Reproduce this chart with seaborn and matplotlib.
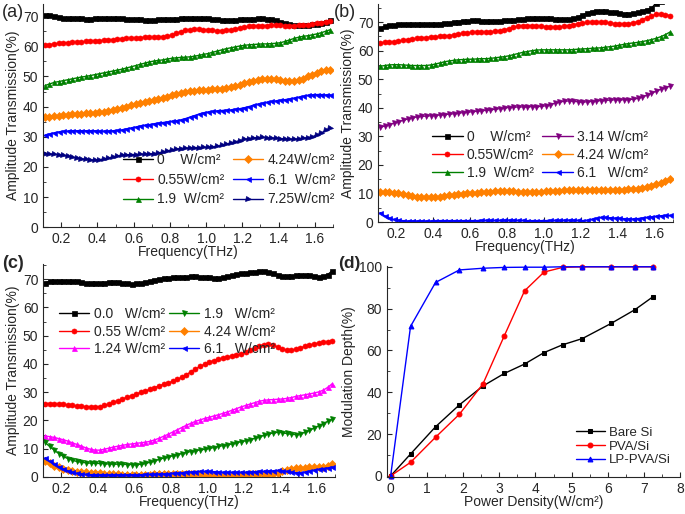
import numpy as np
import matplotlib
matplotlib.use("Agg")
import matplotlib.pyplot as plt
from matplotlib.ticker import MultipleLocator
import seaborn as sns

# ---- data ----
# THz frequency grid (sampling grid of the spectra)
freq = np.round(0.11 + 0.025 * np.arange(64), 3)

# (a) transmission spectra
a_0 = [70.5, 70.3, 70.0, 69.7, 69.5, 69.4, 69.3, 69.3,
       69.3, 69.2, 69.2, 69.3, 69.3, 69.3, 69.4, 69.4,
       69.4, 69.3, 69.2, 69.1, 69.0, 68.9, 68.8, 68.8,
       68.8, 68.9, 68.9, 69.0, 69.1, 69.2, 69.3, 69.4,
       69.5, 69.5, 69.4, 69.4, 69.3, 69.1, 68.9, 68.8,
       68.7, 68.7, 68.8, 68.9, 69.0, 69.1, 69.2, 69.3,
       69.3, 69.2, 69.0, 68.6, 68.2, 67.8, 67.4, 67.2,
       67.2, 67.1, 67.2, 67.3, 67.5, 67.8, 68.2, 68.7]
a_055 = [60.3, 60.6, 60.8, 61.0, 61.1, 61.2, 61.3, 61.4,
         61.5, 61.6, 61.7, 61.8, 61.9, 62.0, 62.1, 62.2,
         62.4, 62.5, 62.6, 62.7, 62.8, 62.9, 63.0, 63.0,
         63.0, 63.1, 63.2, 63.4, 63.7, 64.3, 64.9, 65.3,
         65.5, 65.6, 65.6, 65.5, 65.4, 65.3, 65.2, 65.2,
         65.3, 65.5, 65.8, 66.1, 66.4, 66.6, 66.7, 66.8,
         66.9, 66.9, 67.0, 67.0, 67.0, 66.9, 66.9, 66.9,
         67.0, 67.1, 67.2, 67.4, 67.6, 67.9, 68.2, 68.5]
a_19 = [47.0, 47.5, 48.0, 48.3, 48.6, 48.9, 49.2, 49.5,
        49.8, 50.0, 50.3, 50.6, 50.9, 51.2, 51.5, 51.8,
        52.1, 52.4, 52.8, 53.2, 53.6, 54.0, 54.4, 54.8,
        55.1, 55.3, 55.5, 55.8, 56.0, 56.2, 56.3, 56.4,
        56.5, 56.7, 57.0, 57.3, 57.6, 58.0, 58.4, 58.8,
        59.2, 59.5, 59.8, 60.1, 60.3, 60.5, 60.6, 60.7,
        60.8, 60.8, 60.9, 61.0, 61.2, 61.6, 62.1, 62.6,
        63.0, 63.3, 63.5, 63.8, 64.1, 64.5, 65.0, 65.5]
a_424 = [36.5, 36.7, 36.8, 37.0, 37.2, 37.3, 37.4, 37.5,
         37.6, 37.8, 37.9, 38.0, 38.1, 38.3, 38.6, 38.9,
         39.2, 39.6, 40.0, 40.4, 40.8, 41.2, 41.5, 41.8,
         42.1, 42.4, 42.8, 43.3, 43.7, 44.2, 44.6, 44.9,
         45.1, 45.3, 45.4, 45.5, 45.6, 45.7, 45.9, 46.0,
         46.2, 46.5, 46.9, 47.3, 47.7, 48.1, 48.5, 48.8,
         49.0, 49.2, 49.2, 49.0, 48.7, 48.5, 48.5, 48.6,
         48.8, 49.3, 50.0, 50.6, 51.3, 51.9, 52.2, 52.3]
a_61 = [30.5, 30.9, 31.3, 31.6, 31.8, 31.9, 32.0, 32.0,
        32.0, 32.0, 32.0, 32.0, 31.9, 31.9, 31.9, 32.0,
        32.1, 32.3, 32.6, 32.9, 33.2, 33.5, 33.8, 34.0,
        34.3, 34.5, 34.7, 34.9, 35.1, 35.3, 35.6, 36.0,
        36.5, 37.0, 37.5, 37.9, 38.2, 38.4, 38.6, 38.7,
        38.8, 38.9, 39.1, 39.3, 39.6, 40.0, 40.4, 40.8,
        41.1, 41.4, 41.7, 41.9, 42.1, 42.3, 42.5, 42.8,
        43.1, 43.4, 43.7, 43.9, 44.0, 44.0, 43.9, 43.9]
a_725 = [24.3, 24.3, 24.2, 24.0, 23.8, 23.5, 23.2, 22.9,
         22.7, 22.5, 22.3, 22.3, 22.4, 22.6, 22.9, 23.3,
         23.6, 23.9, 24.0, 24.1, 24.1, 24.2, 24.2, 24.3,
         24.4, 24.6, 24.9, 25.3, 25.6, 25.9, 26.1, 26.2,
         26.3, 26.4, 26.4, 26.5, 26.5, 26.6, 26.8, 27.1,
         27.5, 27.9, 28.3, 28.7, 29.1, 29.4, 29.6, 29.7,
         29.8, 29.7, 29.6, 29.5, 29.4, 29.3, 29.2, 29.2,
         29.3, 29.5, 29.7, 30.0, 30.5, 31.2, 32.1, 33.0]

# (b) transmission spectra
b_0 = [67.8, 68.5, 68.9, 69.1, 69.2, 69.3, 69.3, 69.3,
       69.3, 69.3, 69.3, 69.3, 69.4, 69.5, 69.7, 69.8,
       70.0, 70.2, 70.4, 70.5, 70.6, 70.6, 70.5, 70.5,
       70.5, 70.5, 70.5, 70.6, 70.7, 70.8, 71.0, 71.2,
       71.4, 71.5, 71.6, 71.6, 71.5, 71.4, 71.2, 71.1,
       71.0, 71.0, 71.3, 71.8, 72.5, 73.2, 73.7, 74.0,
       74.0, 73.9, 73.7, 73.4, 73.1, 73.0, 73.0, 73.1,
       73.4, 73.9, 74.4, 74.8, 76.8, 77.5, 78.0, 78.5]
b_055 = [62.8, 62.9, 63.0, 63.1, 63.3, 63.6, 63.9, 64.1,
         64.3, 64.5, 64.6, 64.8, 64.9, 65.0, 65.2, 65.3,
         65.5, 65.8, 66.1, 66.3, 66.4, 66.5, 66.5, 66.5,
         66.6, 66.8, 67.0, 67.3, 67.7, 68.2, 68.6, 68.8,
         68.8, 68.8, 68.7, 68.6, 68.4, 68.3, 68.3, 68.4,
         68.5, 68.8, 69.1, 69.4, 69.7, 69.9, 70.0, 70.0,
         70.0, 69.9, 69.7, 69.5, 69.4, 69.4, 69.5, 69.7,
         70.2, 70.9, 71.6, 72.2, 72.7, 72.8, 72.6, 72.3]
b_19 = [54.5, 54.8, 55.0, 55.1, 55.1, 55.0, 54.9, 54.8,
        54.8, 54.8, 54.8, 55.0, 55.3, 55.7, 56.1, 56.4,
        56.6, 56.8, 56.9, 57.0, 57.0, 57.1, 57.2, 57.2,
        57.3, 57.5, 57.7, 57.9, 58.2, 58.6, 59.0, 59.4,
        59.7, 60.0, 60.2, 60.3, 60.3, 60.3, 60.3, 60.3,
        60.3, 60.3, 60.4, 60.5, 60.6, 60.7, 60.8, 60.9,
        61.0, 61.2, 61.4, 61.6, 61.9, 62.2, 62.5, 62.7,
        62.9, 63.2, 63.5, 63.9, 64.3, 64.9, 65.6, 66.5]
b_314 = [33.2, 33.6, 34.1, 34.6, 35.1, 35.6, 36.1, 36.5,
         36.8, 37.0, 37.1, 37.2, 37.3, 37.5, 37.6, 37.8,
         37.9, 38.1, 38.3, 38.5, 38.6, 38.8, 39.0, 39.1,
         39.3, 39.5, 39.7, 39.9, 40.1, 40.2, 40.3, 40.3,
         40.3, 40.4, 40.4, 40.5, 40.7, 41.1, 41.6, 42.0,
         42.3, 42.4, 42.3, 42.1, 42.0, 42.1, 42.2, 42.4,
         42.5, 42.6, 42.7, 42.8, 42.8, 42.8, 42.9, 43.0,
         43.3, 43.8, 44.4, 45.1, 45.8, 46.5, 47.1, 47.6]
b_424 = [10.5, 10.5, 10.4, 10.3, 10.1, 9.8, 9.4, 9.1,
         8.9, 8.7, 8.6, 8.6, 8.7, 8.9, 9.1, 9.4,
         9.6, 9.8, 9.9, 10.0, 10.1, 10.2, 10.4, 10.5,
         10.6, 10.7, 10.8, 10.8, 10.8, 10.7, 10.6, 10.5,
         10.5, 10.5, 10.6, 10.6, 10.7, 10.8, 10.9, 11.0,
         11.1, 11.2, 11.3, 11.3, 11.3, 11.2, 11.2, 11.2,
         11.2, 11.2, 11.2, 11.2, 11.3, 11.3, 11.4, 11.5,
         11.6, 11.8, 12.1, 12.6, 13.2, 13.8, 14.4, 15.0]
b_61 = [3.3, 2.2, 1.4, 0.9, 0.6, 0.5, 0.4, 0.4,
        0.4, 0.4, 0.4, 0.4, 0.4, 0.5, 0.5, 0.5,
        0.5, 0.5, 0.5, 0.5, 0.5, 0.5, 0.6, 0.6,
        0.6, 0.6, 0.6, 0.7, 0.7, 0.7, 0.6, 0.6,
        0.5, 0.5, 0.5, 0.5, 0.5, 0.6, 0.6, 0.6,
        0.7, 0.7, 0.7, 0.6, 0.5, 0.6, 0.9, 1.3,
        1.6, 1.6, 1.5, 1.4, 1.3, 1.2, 1.1, 1.1,
        1.2, 1.4, 1.6, 1.8, 2.0, 2.2, 2.3, 2.3]

# (c) transmission spectra
c_0 = [68.8, 69.2, 69.4, 69.5, 69.5, 69.5, 69.4, 69.2,
       69.0, 68.7, 68.5, 68.5, 68.6, 68.8, 69.0, 69.0,
       68.9, 68.7, 68.5, 68.4, 68.5, 68.7, 69.0, 69.4,
       69.8, 70.1, 70.3, 70.5, 70.6, 70.7, 70.8, 70.9,
       71.0, 71.0, 70.9, 70.8, 70.6, 70.5, 70.5, 70.7,
       71.0, 71.4, 71.8, 72.1, 72.3, 72.5, 72.7, 72.8,
       72.8, 72.6, 72.1, 71.6, 71.2, 71.1, 71.2, 71.3,
       71.4, 71.4, 71.3, 71.1, 70.9, 71.0, 71.6, 73.0]
c_055 = [26.0, 26.0, 25.9, 25.8, 25.7, 25.5, 25.3, 25.1,
         25.0, 24.9, 24.8, 24.8, 24.9, 25.3, 25.8, 26.4,
         27.0, 27.6, 28.2, 28.8, 29.4, 29.9, 30.4, 31.0,
         31.6, 32.2, 32.8, 33.3, 33.8, 34.5, 35.3, 36.2,
         37.2, 38.2, 39.1, 39.9, 40.6, 41.2, 41.7, 42.1,
         42.5, 42.8, 43.2, 43.6, 44.1, 44.8, 45.6, 46.4,
         46.8, 46.9, 46.6, 46.0, 45.3, 44.9, 44.9, 45.2,
         45.7, 46.2, 46.7, 47.1, 47.4, 47.6, 47.8, 48.2]
c_124 = [14.5, 14.3, 14.0, 13.6, 13.2, 12.7, 12.1, 11.5,
         10.9, 10.3, 9.8, 9.5, 9.5, 9.8, 10.2, 10.6,
         10.9, 11.2, 11.5, 11.7, 11.9, 12.1, 12.3, 12.6,
         13.1, 13.7, 14.4, 15.1, 15.9, 16.7, 17.5, 18.3,
         19.0, 19.7, 20.2, 20.7, 21.1, 21.6, 22.0, 22.5,
         23.0, 23.6, 24.2, 24.8, 25.3, 25.8, 26.3, 26.8,
         27.1, 27.3, 27.4, 27.5, 27.6, 27.8, 28.1, 28.5,
         28.8, 29.1, 29.4, 29.7, 30.1, 30.7, 31.7, 33.0]
c_19 = [12.3, 10.8, 9.5, 8.3, 7.3, 6.5, 5.9, 5.5,
        5.2, 5.0, 4.9, 4.8, 4.8, 4.7, 4.6, 4.6,
        4.5, 4.5, 4.4, 4.4, 4.4, 4.5, 4.8, 5.2,
        5.7, 6.2, 6.7, 7.1, 7.5, 7.9, 8.3, 8.7,
        9.0, 9.3, 9.6, 9.8, 10.1, 10.4, 10.8, 11.1,
        11.4, 11.7, 12.1, 12.5, 12.8, 13.2, 13.7, 14.2,
        14.7, 15.2, 15.6, 15.8, 15.7, 15.4, 15.1, 15.0,
        15.3, 15.8, 16.5, 17.3, 18.1, 18.9, 19.7, 20.4]
c_424 = [5.8, 4.8, 4.0, 3.4, 2.9, 2.5, 2.2, 1.9,
         1.7, 1.6, 1.5, 1.4, 1.3, 1.2, 1.1, 1.0,
         0.9, 0.8, 0.7, 0.6, 0.6, 0.6, 0.7, 0.8,
         0.9, 1.0, 1.1, 1.1, 1.2, 1.2, 1.2, 1.2,
         1.1, 1.0, 0.9, 0.8, 0.6, 0.5, 0.4, 0.3,
         0.3, 0.4, 0.5, 0.7, 0.8, 0.9, 1.0, 1.0,
         1.0, 1.1, 1.2, 1.5, 2.0, 2.5, 2.9, 3.1,
         3.2, 3.3, 3.4, 3.4, 3.5, 3.7, 4.0, 4.5]
c_61 = [6.8, 5.6, 4.6, 3.7, 2.9, 2.2, 1.7, 1.3,
        1.1, 0.9, 0.8, 0.8, 0.8, 0.8, 0.8, 0.8,
        0.8, 0.8, 0.8, 0.8, 0.8, 0.8, 0.9, 0.9,
        1.0, 1.1, 1.1, 1.2, 1.3, 1.4, 1.5, 1.7,
        1.8, 1.9, 2.0, 2.0, 2.0, 1.9, 1.8, 1.7,
        1.7, 1.7, 1.7, 1.7, 1.7, 1.8, 1.9, 2.0,
        2.0, 2.1, 2.2, 2.3, 2.2, 2.0, 1.7, 1.5,
        1.5, 1.7, 2.0, 2.4, 2.7, 3.0, 3.2, 3.5]

# (d) modulation depth vs pump power
power = [0, 0.55, 1.24, 1.9, 2.55, 3.14, 3.7, 4.24, 4.75, 5.3, 6.1, 6.75, 7.25]
md_bare = [0, 10.5, 23.5, 34, 43, 49, 53.5, 59, 62.7, 65.7, 73, 79.5, 85.7]
md_pva = [0, 6.5, 18.5, 29.5, 44, 67, 88.5, 97.5, 99.7, 100, 100, 100, 100]
md_lp = [0, 71.5, 92.5, 98.5, 99.3, 99.7, 99.8, 99.8, 100, 100, 100, 100, 100]

# ---- style ----
sns.set_style("ticks", {"xtick.direction": "in", "ytick.direction": "in"})
plt.rcParams['font.family'] = ['Liberation Sans', 'DejaVu Sans']
plt.rcParams['font.size'] = 10
plt.rcParams['xtick.major.size'] = 3.5
plt.rcParams['ytick.major.size'] = 3.5
plt.rcParams['xtick.minor.size'] = 2
plt.rcParams['ytick.minor.size'] = 2

BLACK, RED, GREEN = '#000000', '#ff0000', '#008000'
ORANGE, BLUE, NAVY = '#ff8000', '#0000ff', '#000080'
PURPLE, MAGENTA = '#800080', '#ff00ff'

fig = plt.figure(figsize=(6.85, 5.14), dpi=100)
ax_a = fig.add_axes([0.063, 0.558, 0.423, 0.434])
ax_b = fig.add_axes([0.552, 0.568, 0.430, 0.424])
ax_c = fig.add_axes([0.063, 0.072, 0.426, 0.414])
ax_d = fig.add_axes([0.565, 0.072, 0.428, 0.411])


def draw_spectra(ax, series, ymax):
    for vals, col, mk, lab in series:
        sns.lineplot(x=freq, y=vals, ax=ax, color=col, marker=mk, markersize=3.6,
                     markeredgecolor=col, markeredgewidth=0.5, linewidth=1.0,
                     label=lab, estimator=None)
    ax.set_xlim(0.1, 1.7)
    ax.set_ylim(0, ymax)
    ax.xaxis.set_minor_locator(MultipleLocator(0.1))
    ax.yaxis.set_major_locator(MultipleLocator(10))
    ax.yaxis.set_minor_locator(MultipleLocator(5))
    ax.set_xticks(np.arange(0.2, 1.65, 0.2))
    ax.set_xticklabels([f"{v:.1f}" for v in np.arange(0.2, 1.65, 0.2)])
    ax.set_xlabel("Frequency(THz)", labelpad=-0.5)
    ax.set_ylabel("Amplitude Transmission(%)", labelpad=2)
    ax.tick_params(labelsize=10)
    sns.despine(ax=ax)


# ---- (a) ----
draw_spectra(ax_a, [
    (a_0, BLACK, 's', "0    W/cm²"),
    (a_055, RED, 'o', "0.55W/cm²"),
    (a_19, GREEN, '^', "1.9  W/cm²"),
    (a_424, ORANGE, 'D', "4.24W/cm²"),
    (a_61, BLUE, '<', "6.1  W/cm²"),
    (a_725, NAVY, '>', "7.25W/cm²"),
], 74)
ax_a.legend(ncol=2, frameon=False, loc='upper left', bbox_to_anchor=(0.25, 0.365),
            fontsize=10, handlelength=2.2, handletextpad=0.3, columnspacing=0.6,
            labelspacing=0.42, borderpad=0)

# ---- (b) ----
draw_spectra(ax_b, [
    (b_0, BLACK, 's', "0    W/cm²"),
    (b_055, RED, 'o', "0.55W/cm²"),
    (b_19, GREEN, '^', "1.9  W/cm²"),
    (b_314, PURPLE, 'v', "3.14 W/cm²"),
    (b_424, ORANGE, 'D', "4.24 W/cm²"),
    (b_61, BLUE, '<', "6.1   W/cm²"),
], 76.3)
ax_b.legend(ncol=2, frameon=False, loc='upper left', bbox_to_anchor=(0.16, 0.455),
            fontsize=10, handlelength=2.2, handletextpad=0.3, columnspacing=0.6,
            labelspacing=0.3, borderpad=0)

# ---- (c) ----
draw_spectra(ax_c, [
    (c_0, BLACK, 's', "0.0   W/cm²"),
    (c_055, RED, 'o', "0.55 W/cm²"),
    (c_124, MAGENTA, '^', "1.24 W/cm²"),
    (c_19, GREEN, 'v', "1.9   W/cm²"),
    (c_424, ORANGE, 'D', "4.24 W/cm²"),
    (c_61, BLUE, '<', "6.1   W/cm²"),
], 75.3)
ax_c.legend(ncol=2, frameon=False, loc='upper left', bbox_to_anchor=(0.03, 0.83),
            fontsize=10, handlelength=2.2, handletextpad=0.3, columnspacing=0.3,
            labelspacing=0.25, borderpad=0)

# ---- (d) ----
for vals, col, mk, lab in [(md_bare, BLACK, 's', "Bare Si"),
                           (md_pva, RED, 'o', "PVA/Si"),
                           (md_lp, BLUE, '^', "LP-PVA/Si")]:
    sns.lineplot(x=power, y=vals, ax=ax_d, color=col, marker=mk, markersize=3.5,
                 markeredgecolor=col, linewidth=1.0, label=lab, estimator=None,
                 clip_on=False)
ax_d.set_xlim(-0.1, 8)
ax_d.set_ylim(-0.5, 100.5)
ax_d.xaxis.set_major_locator(MultipleLocator(1))
ax_d.xaxis.set_minor_locator(MultipleLocator(0.5))
ax_d.yaxis.set_major_locator(MultipleLocator(20))
ax_d.yaxis.set_minor_locator(MultipleLocator(10))
ax_d.set_xlabel("Power Density(W/cm²)", labelpad=-0.5)
ax_d.set_ylabel("Modulation Depth(%)", labelpad=2)
ax_d.tick_params(labelsize=10)
sns.despine(ax=ax_d)
ax_d.legend(frameon=False, loc='lower right', bbox_to_anchor=(0.99, 0.02),
            fontsize=9.5, handlelength=2.2, handletextpad=0.3, labelspacing=0.1,
            borderpad=0)

# ---- panel letters ----
fig.text(0.003, 0.975, "(a)", fontsize=13, va='center')
fig.text(0.488, 0.975, "(b)", fontsize=13, va='center')
fig.text(0.003, 0.488, "(c)", fontsize=13, fontweight='bold', va='center')
fig.text(0.494, 0.488, "(d)", fontsize=12.5, fontweight='bold', va='center')

fig.savefig("out.png", dpi=100)
